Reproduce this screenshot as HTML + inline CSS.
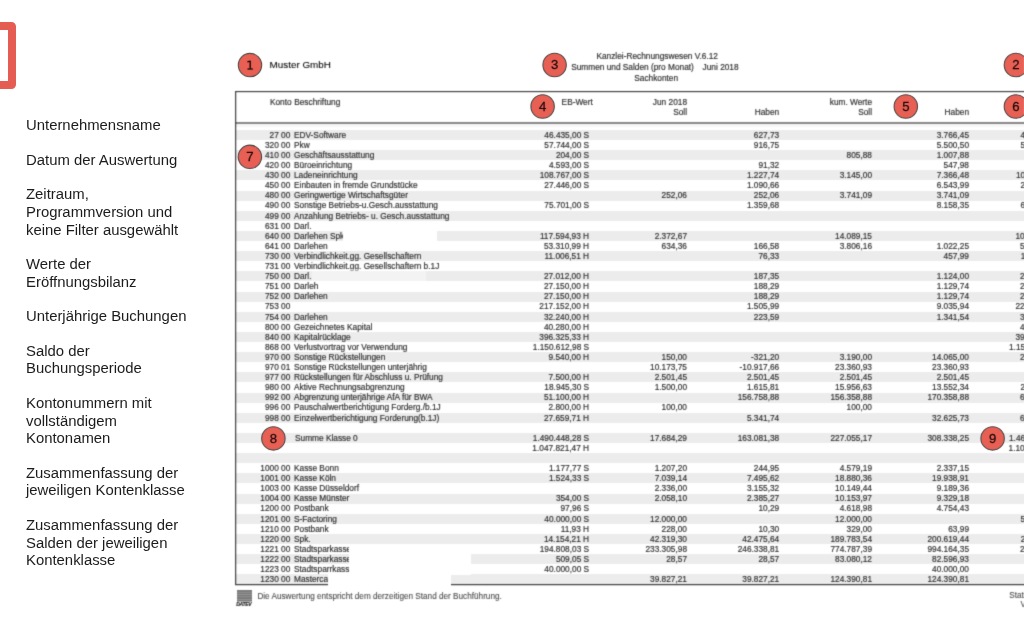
<!DOCTYPE html>
<html lang="de"><head><meta charset="utf-8"><title>Summen und Salden</title>
<style>
html,body{margin:0;padding:0;background:#fff;}
body{width:1024px;height:624px;overflow:hidden;position:relative;font-family:"Liberation Sans",sans-serif;}
#redbox{position:absolute;left:-24px;top:22.2px;width:39.9px;height:67.3px;box-sizing:border-box;border:8px solid #e55d52;border-radius:4.5px;}
#side{position:absolute;left:25.9px;top:0;width:210px;height:624px;will-change:transform;font-size:14.88px;line-height:16px;color:#1c1c1c;}
#side div{position:absolute;left:0;white-space:nowrap;}
#doc{position:absolute;left:0;top:0;width:1024px;height:624px;overflow:hidden;}
#doc .t{position:absolute;white-space:nowrap;line-height:10px;color:#2c2c2c;-webkit-text-stroke-width:0.17px;}
.stripe{position:absolute;left:236px;width:800px;height:10px;background:#ececec;}
.wh{position:absolute;background:#fff;z-index:2;}
.ln{position:absolute;background:#6e6e6e;}
#blur{position:absolute;left:0;top:0;width:1024px;height:624px;filter:url(#fb);}
</style></head><body>
<svg width="0" height="0" style="position:absolute"><defs><filter id="fb" x="0" y="0" width="100%" height="100%" color-interpolation-filters="sRGB"><feConvolveMatrix order="3" kernelMatrix="0.0243 0.1072 0.0243 0.1072 0.4741 0.1072 0.0243 0.1072 0.0243" edgeMode="none"/></filter><filter id="fc" x="0" y="0" width="100%" height="100%" color-interpolation-filters="sRGB"><feConvolveMatrix order="3" kernelMatrix="0.0052 0.0619 0.0052 0.0619 0.7314 0.0619 0.0052 0.0619 0.0052" edgeMode="none"/></filter></defs></svg>
<div id="redbox"></div>
<div id="side">
<div style="top:117px">Unternehmensname</div>
<div style="top:152px">Datum der Auswertung</div>
<div style="top:186px">Zeitraum,</div>
<div style="top:204px">Programmversion und</div>
<div style="top:222px">keine Filter ausgewählt</div>
<div style="top:256px">Werte der</div>
<div style="top:274px">Eröffnungsbilanz</div>
<div style="top:308px">Unterjährige Buchungen</div>
<div style="top:343px">Saldo der</div>
<div style="top:360px">Buchungsperiode</div>
<div style="top:395px">Kontonummern mit</div>
<div style="top:413px">vollständigem</div>
<div style="top:430px">Kontonamen</div>
<div style="top:465px">Zusammenfassung der</div>
<div style="top:482px">jeweiligen Kontenklasse</div>
<div style="top:517px">Zusammenfassung der</div>
<div style="top:535px">Salden der jeweiligen</div>
<div style="top:552px">Kontenklasse</div>
</div>
<div id="doc"><div id="blur">
<div class="stripe" style="top:129.90px"></div>
<div class="stripe" style="top:150.10px"></div>
<div class="stripe" style="top:170.30px"></div>
<div class="stripe" style="top:190.50px"></div>
<div class="stripe" style="top:210.70px"></div>
<div class="stripe" style="top:230.90px"></div>
<div class="stripe" style="top:251.10px"></div>
<div class="stripe" style="top:271.30px"></div>
<div class="stripe" style="top:291.50px"></div>
<div class="stripe" style="top:311.70px"></div>
<div class="stripe" style="top:331.90px"></div>
<div class="stripe" style="top:352.10px"></div>
<div class="stripe" style="top:372.30px"></div>
<div class="stripe" style="top:392.50px"></div>
<div class="stripe" style="top:412.70px"></div>
<div class="stripe" style="top:432.90px"></div>
<div class="stripe" style="top:453.10px"></div>
<div class="stripe" style="top:473.30px"></div>
<div class="stripe" style="top:493.50px"></div>
<div class="stripe" style="top:513.70px"></div>
<div class="stripe" style="top:533.90px"></div>
<div class="stripe" style="top:554.10px"></div>
<div class="stripe" style="top:574.30px"></div>
<div class="stripe" style="top:124.4px;height:2.2px;background:#f6f6f6"></div>
<div class="wh" style="left:343.4px;top:229.5px;width:93.6px;height:12px"></div>
<div class="wh" style="left:312px;top:269px;width:114px;height:12px;opacity:.4"></div>
<div class="wh" style="left:348.7px;top:544.6px;width:122.3px;height:30px"></div>
<div class="ln" style="left:235px;top:91px;width:800px;height:1px;background:#3c3c3c"></div>
<div class="ln" style="left:235px;top:92px;width:800px;height:1px;background:#e2e2e2"></div>
<div class="ln" style="left:235px;top:122px;width:800px;height:2px;background:#878787"></div>
<div class="ln" style="left:235px;top:584px;width:800px;height:1px;background:#404040"></div>
<div class="ln" style="left:235px;top:585px;width:800px;height:1px;background:#d4d4d4"></div>
<div class="ln" style="left:235px;top:91px;width:1px;height:494px;background:#454545"></div>
<div class="ln" style="left:236px;top:92px;width:1px;height:492px;background:#d0d0d0;mix-blend-mode:multiply"></div>
<div class="wh" style="left:328px;top:573.5px;width:122.6px;height:14px"></div>
<div class="t" style="top:59.60px;font-size:9.85px;color:#000;left:269.60px;-webkit-text-stroke-width:0.08px;">Muster GmbH</div>
<div class="t" style="top:51.10px;font-size:8.3px;left:457.20px;width:400px;text-align:center;">Kanzlei-Rechnungswesen V.6.12</div>
<div class="t" style="top:62.10px;font-size:8.3px;left:571.20px;">Summen und Salden (pro Monat)</div>
<div class="t" style="top:62.10px;font-size:8.3px;left:438.60px;width:300px;text-align:right;">Juni 2018</div>
<div class="t" style="top:73.10px;font-size:8.3px;left:456.20px;width:400px;text-align:center;">Sachkonten</div>
<div class="t" style="top:97.10px;font-size:8.3px;left:269.90px;">Konto</div>
<div class="t" style="top:97.10px;font-size:8.3px;left:294.20px;">Beschriftung</div>
<div class="t" style="top:97.10px;font-size:8.3px;left:561.60px;">EB-Wert</div>
<div class="t" style="top:97.10px;font-size:8.3px;left:387.00px;width:300px;text-align:right;">Jun 2018</div>
<div class="t" style="top:107.10px;font-size:8.3px;left:387.00px;width:300px;text-align:right;">Soll</div>
<div class="t" style="top:107.10px;font-size:8.3px;left:479.20px;width:300px;text-align:right;">Haben</div>
<div class="t" style="top:97.10px;font-size:8.3px;left:572.00px;width:300px;text-align:right;">kum. Werte</div>
<div class="t" style="top:107.10px;font-size:8.3px;left:572.00px;width:300px;text-align:right;">Soll</div>
<div class="t" style="top:107.10px;font-size:8.3px;left:669.00px;width:300px;text-align:right;">Haben</div>
<div class="t" style="top:130.10px;font-size:8.3px;left:-9.70px;width:300px;text-align:right;">27 00</div>
<div class="t" style="top:130.10px;font-size:8.3px;left:294.00px;">EDV-Software</div>
<div class="t" style="top:130.10px;font-size:8.3px;left:289.10px;width:300px;text-align:right;">46.435,00 S</div>
<div class="t" style="top:130.10px;font-size:8.3px;left:479.20px;width:300px;text-align:right;">627,73</div>
<div class="t" style="top:130.10px;font-size:8.3px;left:669.00px;width:300px;text-align:right;">3.766,45</div>
<div class="t" style="top:130.10px;font-size:8.3px;left:765.30px;width:300px;text-align:right;">42.668,55 S</div>
<div class="t" style="top:140.10px;font-size:8.3px;left:-9.70px;width:300px;text-align:right;">320 00</div>
<div class="t" style="top:140.10px;font-size:8.3px;left:294.00px;">Pkw</div>
<div class="t" style="top:140.10px;font-size:8.3px;left:289.10px;width:300px;text-align:right;">57.744,00 S</div>
<div class="t" style="top:140.10px;font-size:8.3px;left:479.20px;width:300px;text-align:right;">916,75</div>
<div class="t" style="top:140.10px;font-size:8.3px;left:669.00px;width:300px;text-align:right;">5.500,50</div>
<div class="t" style="top:140.10px;font-size:8.3px;left:765.30px;width:300px;text-align:right;">52.243,50 S</div>
<div class="t" style="top:150.10px;font-size:8.3px;left:-9.70px;width:300px;text-align:right;">410 00</div>
<div class="t" style="top:150.10px;font-size:8.3px;left:294.00px;">Geschäftsausstattung</div>
<div class="t" style="top:150.10px;font-size:8.3px;left:289.10px;width:300px;text-align:right;">204,00 S</div>
<div class="t" style="top:150.10px;font-size:8.3px;left:572.00px;width:300px;text-align:right;">805,88</div>
<div class="t" style="top:150.10px;font-size:8.3px;left:669.00px;width:300px;text-align:right;">1.007,88</div>
<div class="t" style="top:150.10px;font-size:8.3px;left:765.30px;width:300px;text-align:right;">2,00 S</div>
<div class="t" style="top:160.10px;font-size:8.3px;left:-9.70px;width:300px;text-align:right;">420 00</div>
<div class="t" style="top:160.10px;font-size:8.3px;left:294.00px;">Büroeinrichtung</div>
<div class="t" style="top:160.10px;font-size:8.3px;left:289.10px;width:300px;text-align:right;">4.593,00 S</div>
<div class="t" style="top:160.10px;font-size:8.3px;left:479.20px;width:300px;text-align:right;">91,32</div>
<div class="t" style="top:160.10px;font-size:8.3px;left:669.00px;width:300px;text-align:right;">547,98</div>
<div class="t" style="top:160.10px;font-size:8.3px;left:765.30px;width:300px;text-align:right;">4.045,02 S</div>
<div class="t" style="top:170.10px;font-size:8.3px;left:-9.70px;width:300px;text-align:right;">430 00</div>
<div class="t" style="top:170.10px;font-size:8.3px;left:294.00px;">Ladeneinrichtung</div>
<div class="t" style="top:170.10px;font-size:8.3px;left:289.10px;width:300px;text-align:right;">108.767,00 S</div>
<div class="t" style="top:170.10px;font-size:8.3px;left:479.20px;width:300px;text-align:right;">1.227,74</div>
<div class="t" style="top:170.10px;font-size:8.3px;left:572.00px;width:300px;text-align:right;">3.145,00</div>
<div class="t" style="top:170.10px;font-size:8.3px;left:669.00px;width:300px;text-align:right;">7.366,48</div>
<div class="t" style="top:170.10px;font-size:8.3px;left:765.30px;width:300px;text-align:right;">104.545,52 S</div>
<div class="t" style="top:180.10px;font-size:8.3px;left:-9.70px;width:300px;text-align:right;">450 00</div>
<div class="t" style="top:180.10px;font-size:8.3px;left:294.00px;">Einbauten in fremde Grundstücke</div>
<div class="t" style="top:180.10px;font-size:8.3px;left:289.10px;width:300px;text-align:right;">27.446,00 S</div>
<div class="t" style="top:180.10px;font-size:8.3px;left:479.20px;width:300px;text-align:right;">1.090,66</div>
<div class="t" style="top:180.10px;font-size:8.3px;left:669.00px;width:300px;text-align:right;">6.543,99</div>
<div class="t" style="top:180.10px;font-size:8.3px;left:765.30px;width:300px;text-align:right;">20.902,01 S</div>
<div class="t" style="top:190.10px;font-size:8.3px;left:-9.70px;width:300px;text-align:right;">480 00</div>
<div class="t" style="top:190.10px;font-size:8.3px;left:294.00px;">Geringwertige Wirtschaftsgüter</div>
<div class="t" style="top:190.10px;font-size:8.3px;left:387.00px;width:300px;text-align:right;">252,06</div>
<div class="t" style="top:190.10px;font-size:8.3px;left:479.20px;width:300px;text-align:right;">252,06</div>
<div class="t" style="top:190.10px;font-size:8.3px;left:572.00px;width:300px;text-align:right;">3.741,09</div>
<div class="t" style="top:190.10px;font-size:8.3px;left:669.00px;width:300px;text-align:right;">3.741,09</div>
<div class="t" style="top:200.10px;font-size:8.3px;left:-9.70px;width:300px;text-align:right;">490 00</div>
<div class="t" style="top:200.10px;font-size:8.3px;left:294.00px;">Sonstige Betriebs-u.Gesch.ausstattung</div>
<div class="t" style="top:200.10px;font-size:8.3px;left:289.10px;width:300px;text-align:right;">75.701,00 S</div>
<div class="t" style="top:200.10px;font-size:8.3px;left:479.20px;width:300px;text-align:right;">1.359,68</div>
<div class="t" style="top:200.10px;font-size:8.3px;left:669.00px;width:300px;text-align:right;">8.158,35</div>
<div class="t" style="top:200.10px;font-size:8.3px;left:765.30px;width:300px;text-align:right;">67.542,65 S</div>
<div class="t" style="top:211.10px;font-size:8.3px;left:-9.70px;width:300px;text-align:right;">499 00</div>
<div class="t" style="top:211.10px;font-size:8.3px;left:294.00px;">Anzahlung Betriebs- u. Gesch.ausstattung</div>
<div class="t" style="top:221.10px;font-size:8.3px;left:-9.70px;width:300px;text-align:right;">631 00</div>
<div class="t" style="top:221.10px;font-size:8.3px;left:294.00px;">Darl.</div>
<div class="t" style="top:231.10px;font-size:8.3px;left:-9.70px;width:300px;text-align:right;">640 00</div>
<div class="t" style="top:231.10px;font-size:8.3px;left:294.00px;">Darlehen Spk</div>
<div class="t" style="top:231.10px;font-size:8.3px;left:289.10px;width:300px;text-align:right;">117.594,93 H</div>
<div class="t" style="top:231.10px;font-size:8.3px;left:387.00px;width:300px;text-align:right;">2.372,67</div>
<div class="t" style="top:231.10px;font-size:8.3px;left:572.00px;width:300px;text-align:right;">14.089,15</div>
<div class="t" style="top:231.10px;font-size:8.3px;left:765.30px;width:300px;text-align:right;">103.505,78 H</div>
<div class="t" style="top:241.10px;font-size:8.3px;left:-9.70px;width:300px;text-align:right;">641 00</div>
<div class="t" style="top:241.10px;font-size:8.3px;left:294.00px;">Darlehen</div>
<div class="t" style="top:241.10px;font-size:8.3px;left:289.10px;width:300px;text-align:right;">53.310,99 H</div>
<div class="t" style="top:241.10px;font-size:8.3px;left:387.00px;width:300px;text-align:right;">634,36</div>
<div class="t" style="top:241.10px;font-size:8.3px;left:479.20px;width:300px;text-align:right;">166,58</div>
<div class="t" style="top:241.10px;font-size:8.3px;left:572.00px;width:300px;text-align:right;">3.806,16</div>
<div class="t" style="top:241.10px;font-size:8.3px;left:669.00px;width:300px;text-align:right;">1.022,25</div>
<div class="t" style="top:241.10px;font-size:8.3px;left:765.30px;width:300px;text-align:right;">50.527,08 H</div>
<div class="t" style="top:251.10px;font-size:8.3px;left:-9.70px;width:300px;text-align:right;">730 00</div>
<div class="t" style="top:251.10px;font-size:8.3px;left:294.00px;">Verbindlichkeit.gg. Gesellschaftern</div>
<div class="t" style="top:251.10px;font-size:8.3px;left:289.10px;width:300px;text-align:right;">11.006,51 H</div>
<div class="t" style="top:251.10px;font-size:8.3px;left:479.20px;width:300px;text-align:right;">76,33</div>
<div class="t" style="top:251.10px;font-size:8.3px;left:669.00px;width:300px;text-align:right;">457,99</div>
<div class="t" style="top:251.10px;font-size:8.3px;left:765.30px;width:300px;text-align:right;">11.464,50 H</div>
<div class="t" style="top:261.10px;font-size:8.3px;left:-9.70px;width:300px;text-align:right;">731 00</div>
<div class="t" style="top:261.10px;font-size:8.3px;left:294.00px;">Verbindlichkeit.gg. Gesellschaftern b.1J</div>
<div class="t" style="top:271.10px;font-size:8.3px;left:-9.70px;width:300px;text-align:right;">750 00</div>
<div class="t" style="top:271.10px;font-size:8.3px;left:294.00px;">Darl.</div>
<div class="t" style="top:271.10px;font-size:8.3px;left:289.10px;width:300px;text-align:right;">27.012,00 H</div>
<div class="t" style="top:271.10px;font-size:8.3px;left:479.20px;width:300px;text-align:right;">187,35</div>
<div class="t" style="top:271.10px;font-size:8.3px;left:669.00px;width:300px;text-align:right;">1.124,00</div>
<div class="t" style="top:271.10px;font-size:8.3px;left:765.30px;width:300px;text-align:right;">28.136,00 H</div>
<div class="t" style="top:281.10px;font-size:8.3px;left:-9.70px;width:300px;text-align:right;">751 00</div>
<div class="t" style="top:281.10px;font-size:8.3px;left:294.00px;">Darleh</div>
<div class="t" style="top:281.10px;font-size:8.3px;left:289.10px;width:300px;text-align:right;">27.150,00 H</div>
<div class="t" style="top:281.10px;font-size:8.3px;left:479.20px;width:300px;text-align:right;">188,29</div>
<div class="t" style="top:281.10px;font-size:8.3px;left:669.00px;width:300px;text-align:right;">1.129,74</div>
<div class="t" style="top:281.10px;font-size:8.3px;left:765.30px;width:300px;text-align:right;">28.279,74 H</div>
<div class="t" style="top:291.10px;font-size:8.3px;left:-9.70px;width:300px;text-align:right;">752 00</div>
<div class="t" style="top:291.10px;font-size:8.3px;left:294.00px;">Darlehen</div>
<div class="t" style="top:291.10px;font-size:8.3px;left:289.10px;width:300px;text-align:right;">27.150,00 H</div>
<div class="t" style="top:291.10px;font-size:8.3px;left:479.20px;width:300px;text-align:right;">188,29</div>
<div class="t" style="top:291.10px;font-size:8.3px;left:669.00px;width:300px;text-align:right;">1.129,74</div>
<div class="t" style="top:291.10px;font-size:8.3px;left:765.30px;width:300px;text-align:right;">28.279,74 H</div>
<div class="t" style="top:301.10px;font-size:8.3px;left:-9.70px;width:300px;text-align:right;">753 00</div>
<div class="t" style="top:301.10px;font-size:8.3px;left:289.10px;width:300px;text-align:right;">217.152,00 H</div>
<div class="t" style="top:301.10px;font-size:8.3px;left:479.20px;width:300px;text-align:right;">1.505,99</div>
<div class="t" style="top:301.10px;font-size:8.3px;left:669.00px;width:300px;text-align:right;">9.035,94</div>
<div class="t" style="top:301.10px;font-size:8.3px;left:765.30px;width:300px;text-align:right;">226.187,94 H</div>
<div class="t" style="top:312.10px;font-size:8.3px;left:-9.70px;width:300px;text-align:right;">754 00</div>
<div class="t" style="top:312.10px;font-size:8.3px;left:294.00px;">Darlehen</div>
<div class="t" style="top:312.10px;font-size:8.3px;left:289.10px;width:300px;text-align:right;">32.240,00 H</div>
<div class="t" style="top:312.10px;font-size:8.3px;left:479.20px;width:300px;text-align:right;">223,59</div>
<div class="t" style="top:312.10px;font-size:8.3px;left:669.00px;width:300px;text-align:right;">1.341,54</div>
<div class="t" style="top:312.10px;font-size:8.3px;left:765.30px;width:300px;text-align:right;">33.581,54 H</div>
<div class="t" style="top:322.10px;font-size:8.3px;left:-9.70px;width:300px;text-align:right;">800 00</div>
<div class="t" style="top:322.10px;font-size:8.3px;left:294.00px;">Gezeichnetes Kapital</div>
<div class="t" style="top:322.10px;font-size:8.3px;left:289.10px;width:300px;text-align:right;">40.280,00 H</div>
<div class="t" style="top:322.10px;font-size:8.3px;left:765.30px;width:300px;text-align:right;">40.280,00 H</div>
<div class="t" style="top:332.10px;font-size:8.3px;left:-9.70px;width:300px;text-align:right;">840 00</div>
<div class="t" style="top:332.10px;font-size:8.3px;left:294.00px;">Kapitalrücklage</div>
<div class="t" style="top:332.10px;font-size:8.3px;left:289.10px;width:300px;text-align:right;">396.325,33 H</div>
<div class="t" style="top:332.10px;font-size:8.3px;left:765.30px;width:300px;text-align:right;">396.325,33 H</div>
<div class="t" style="top:342.10px;font-size:8.3px;left:-9.70px;width:300px;text-align:right;">868 00</div>
<div class="t" style="top:342.10px;font-size:8.3px;left:294.00px;">Verlustvortrag vor Verwendung</div>
<div class="t" style="top:342.10px;font-size:8.3px;left:289.10px;width:300px;text-align:right;">1.150.612,98 S</div>
<div class="t" style="top:342.10px;font-size:8.3px;left:765.30px;width:300px;text-align:right;">1.150.612,98 S</div>
<div class="t" style="top:352.10px;font-size:8.3px;left:-9.70px;width:300px;text-align:right;">970 00</div>
<div class="t" style="top:352.10px;font-size:8.3px;left:294.00px;">Sonstige Rückstellungen</div>
<div class="t" style="top:352.10px;font-size:8.3px;left:289.10px;width:300px;text-align:right;">9.540,00 H</div>
<div class="t" style="top:352.10px;font-size:8.3px;left:387.00px;width:300px;text-align:right;">150,00</div>
<div class="t" style="top:352.10px;font-size:8.3px;left:479.20px;width:300px;text-align:right;">-321,20</div>
<div class="t" style="top:352.10px;font-size:8.3px;left:572.00px;width:300px;text-align:right;">3.190,00</div>
<div class="t" style="top:352.10px;font-size:8.3px;left:669.00px;width:300px;text-align:right;">14.065,00</div>
<div class="t" style="top:352.10px;font-size:8.3px;left:765.30px;width:300px;text-align:right;">20.415,00 H</div>
<div class="t" style="top:362.10px;font-size:8.3px;left:-9.70px;width:300px;text-align:right;">970 01</div>
<div class="t" style="top:362.10px;font-size:8.3px;left:294.00px;">Sonstige Rückstellungen unterjährig</div>
<div class="t" style="top:362.10px;font-size:8.3px;left:387.00px;width:300px;text-align:right;">10.173,75</div>
<div class="t" style="top:362.10px;font-size:8.3px;left:479.20px;width:300px;text-align:right;">-10.917,66</div>
<div class="t" style="top:362.10px;font-size:8.3px;left:572.00px;width:300px;text-align:right;">23.360,93</div>
<div class="t" style="top:362.10px;font-size:8.3px;left:669.00px;width:300px;text-align:right;">23.360,93</div>
<div class="t" style="top:372.10px;font-size:8.3px;left:-9.70px;width:300px;text-align:right;">977 00</div>
<div class="t" style="top:372.10px;font-size:8.3px;left:294.00px;">Rückstellungen für Abschluss u. Prüfung</div>
<div class="t" style="top:372.10px;font-size:8.3px;left:289.10px;width:300px;text-align:right;">7.500,00 H</div>
<div class="t" style="top:372.10px;font-size:8.3px;left:387.00px;width:300px;text-align:right;">2.501,45</div>
<div class="t" style="top:372.10px;font-size:8.3px;left:479.20px;width:300px;text-align:right;">2.501,45</div>
<div class="t" style="top:372.10px;font-size:8.3px;left:572.00px;width:300px;text-align:right;">2.501,45</div>
<div class="t" style="top:372.10px;font-size:8.3px;left:669.00px;width:300px;text-align:right;">2.501,45</div>
<div class="t" style="top:372.10px;font-size:8.3px;left:765.30px;width:300px;text-align:right;">7.500,00 H</div>
<div class="t" style="top:382.10px;font-size:8.3px;left:-9.70px;width:300px;text-align:right;">980 00</div>
<div class="t" style="top:382.10px;font-size:8.3px;left:294.00px;">Aktive Rechnungsabgrenzung</div>
<div class="t" style="top:382.10px;font-size:8.3px;left:289.10px;width:300px;text-align:right;">18.945,30 S</div>
<div class="t" style="top:382.10px;font-size:8.3px;left:387.00px;width:300px;text-align:right;">1.500,00</div>
<div class="t" style="top:382.10px;font-size:8.3px;left:479.20px;width:300px;text-align:right;">1.615,81</div>
<div class="t" style="top:382.10px;font-size:8.3px;left:572.00px;width:300px;text-align:right;">15.956,63</div>
<div class="t" style="top:382.10px;font-size:8.3px;left:669.00px;width:300px;text-align:right;">13.552,34</div>
<div class="t" style="top:382.10px;font-size:8.3px;left:765.30px;width:300px;text-align:right;">21.349,59 S</div>
<div class="t" style="top:392.10px;font-size:8.3px;left:-9.70px;width:300px;text-align:right;">992 00</div>
<div class="t" style="top:392.10px;font-size:8.3px;left:294.00px;">Abgrenzung unterjährige AfA für BWA</div>
<div class="t" style="top:392.10px;font-size:8.3px;left:289.10px;width:300px;text-align:right;">51.100,00 H</div>
<div class="t" style="top:392.10px;font-size:8.3px;left:479.20px;width:300px;text-align:right;">156.758,88</div>
<div class="t" style="top:392.10px;font-size:8.3px;left:572.00px;width:300px;text-align:right;">156.358,88</div>
<div class="t" style="top:392.10px;font-size:8.3px;left:669.00px;width:300px;text-align:right;">170.358,88</div>
<div class="t" style="top:392.10px;font-size:8.3px;left:765.30px;width:300px;text-align:right;">65.100,00 H</div>
<div class="t" style="top:402.10px;font-size:8.3px;left:-9.70px;width:300px;text-align:right;">996 00</div>
<div class="t" style="top:402.10px;font-size:8.3px;left:294.00px;">Pauschalwertberichtigung Forderg./b.1J</div>
<div class="t" style="top:402.10px;font-size:8.3px;left:289.10px;width:300px;text-align:right;">2.800,00 H</div>
<div class="t" style="top:402.10px;font-size:8.3px;left:387.00px;width:300px;text-align:right;">100,00</div>
<div class="t" style="top:402.10px;font-size:8.3px;left:572.00px;width:300px;text-align:right;">100,00</div>
<div class="t" style="top:402.10px;font-size:8.3px;left:765.30px;width:300px;text-align:right;">2.700,00 H</div>
<div class="t" style="top:413.10px;font-size:8.3px;left:-9.70px;width:300px;text-align:right;">998 00</div>
<div class="t" style="top:413.10px;font-size:8.3px;left:294.00px;">Einzelwertberichtigung Forderung(b.1J)</div>
<div class="t" style="top:413.10px;font-size:8.3px;left:289.10px;width:300px;text-align:right;">27.659,71 H</div>
<div class="t" style="top:413.10px;font-size:8.3px;left:479.20px;width:300px;text-align:right;">5.341,74</div>
<div class="t" style="top:413.10px;font-size:8.3px;left:669.00px;width:300px;text-align:right;">32.625,73</div>
<div class="t" style="top:413.10px;font-size:8.3px;left:765.30px;width:300px;text-align:right;">60.285,44 H</div>
<div class="t" style="top:433.10px;font-size:8.3px;left:295.00px;">Summe Klasse 0</div>
<div class="t" style="top:433.10px;font-size:8.3px;left:289.10px;width:300px;text-align:right;">1.490.448,28 S</div>
<div class="t" style="top:433.10px;font-size:8.3px;left:387.00px;width:300px;text-align:right;">17.684,29</div>
<div class="t" style="top:433.10px;font-size:8.3px;left:479.20px;width:300px;text-align:right;">163.081,38</div>
<div class="t" style="top:433.10px;font-size:8.3px;left:572.00px;width:300px;text-align:right;">227.055,17</div>
<div class="t" style="top:433.10px;font-size:8.3px;left:669.00px;width:300px;text-align:right;">308.338,25</div>
<div class="t" style="top:433.10px;font-size:8.3px;left:765.30px;width:300px;text-align:right;">1.461.234,56 S</div>
<div class="t" style="top:443.10px;font-size:8.3px;left:289.10px;width:300px;text-align:right;">1.047.821,47 H</div>
<div class="t" style="top:443.10px;font-size:8.3px;left:765.30px;width:300px;text-align:right;">1.101.234,56 H</div>
<div class="t" style="top:463.10px;font-size:8.3px;left:-9.70px;width:300px;text-align:right;">1000 00</div>
<div class="t" style="top:463.10px;font-size:8.3px;left:294.00px;">Kasse Bonn</div>
<div class="t" style="top:463.10px;font-size:8.3px;left:289.10px;width:300px;text-align:right;">1.177,77 S</div>
<div class="t" style="top:463.10px;font-size:8.3px;left:387.00px;width:300px;text-align:right;">1.207,20</div>
<div class="t" style="top:463.10px;font-size:8.3px;left:479.20px;width:300px;text-align:right;">244,95</div>
<div class="t" style="top:463.10px;font-size:8.3px;left:572.00px;width:300px;text-align:right;">4.579,19</div>
<div class="t" style="top:463.10px;font-size:8.3px;left:669.00px;width:300px;text-align:right;">2.337,15</div>
<div class="t" style="top:463.10px;font-size:8.3px;left:765.30px;width:300px;text-align:right;">3.419,81 S</div>
<div class="t" style="top:473.10px;font-size:8.3px;left:-9.70px;width:300px;text-align:right;">1001 00</div>
<div class="t" style="top:473.10px;font-size:8.3px;left:294.00px;">Kasse Köln</div>
<div class="t" style="top:473.10px;font-size:8.3px;left:289.10px;width:300px;text-align:right;">1.524,33 S</div>
<div class="t" style="top:473.10px;font-size:8.3px;left:387.00px;width:300px;text-align:right;">7.039,14</div>
<div class="t" style="top:473.10px;font-size:8.3px;left:479.20px;width:300px;text-align:right;">7.495,62</div>
<div class="t" style="top:473.10px;font-size:8.3px;left:572.00px;width:300px;text-align:right;">18.880,36</div>
<div class="t" style="top:473.10px;font-size:8.3px;left:669.00px;width:300px;text-align:right;">19.938,91</div>
<div class="t" style="top:473.10px;font-size:8.3px;left:765.30px;width:300px;text-align:right;">465,78 S</div>
<div class="t" style="top:483.10px;font-size:8.3px;left:-9.70px;width:300px;text-align:right;">1003 00</div>
<div class="t" style="top:483.10px;font-size:8.3px;left:294.00px;">Kasse Düsseldorf</div>
<div class="t" style="top:483.10px;font-size:8.3px;left:387.00px;width:300px;text-align:right;">2.336,00</div>
<div class="t" style="top:483.10px;font-size:8.3px;left:479.20px;width:300px;text-align:right;">3.155,32</div>
<div class="t" style="top:483.10px;font-size:8.3px;left:572.00px;width:300px;text-align:right;">10.149,44</div>
<div class="t" style="top:483.10px;font-size:8.3px;left:669.00px;width:300px;text-align:right;">9.189,36</div>
<div class="t" style="top:483.10px;font-size:8.3px;left:765.30px;width:300px;text-align:right;">960,08 S</div>
<div class="t" style="top:493.10px;font-size:8.3px;left:-9.70px;width:300px;text-align:right;">1004 00</div>
<div class="t" style="top:493.10px;font-size:8.3px;left:294.00px;">Kasse Münster</div>
<div class="t" style="top:493.10px;font-size:8.3px;left:289.10px;width:300px;text-align:right;">354,00 S</div>
<div class="t" style="top:493.10px;font-size:8.3px;left:387.00px;width:300px;text-align:right;">2.058,10</div>
<div class="t" style="top:493.10px;font-size:8.3px;left:479.20px;width:300px;text-align:right;">2.385,27</div>
<div class="t" style="top:493.10px;font-size:8.3px;left:572.00px;width:300px;text-align:right;">10.153,97</div>
<div class="t" style="top:493.10px;font-size:8.3px;left:669.00px;width:300px;text-align:right;">9.329,18</div>
<div class="t" style="top:493.10px;font-size:8.3px;left:765.30px;width:300px;text-align:right;">1.178,79 S</div>
<div class="t" style="top:503.10px;font-size:8.3px;left:-9.70px;width:300px;text-align:right;">1200 00</div>
<div class="t" style="top:503.10px;font-size:8.3px;left:294.00px;">Postbank</div>
<div class="t" style="top:503.10px;font-size:8.3px;left:289.10px;width:300px;text-align:right;">97,96 S</div>
<div class="t" style="top:503.10px;font-size:8.3px;left:479.20px;width:300px;text-align:right;">10,29</div>
<div class="t" style="top:503.10px;font-size:8.3px;left:572.00px;width:300px;text-align:right;">4.618,98</div>
<div class="t" style="top:503.10px;font-size:8.3px;left:669.00px;width:300px;text-align:right;">4.754,43</div>
<div class="t" style="top:503.10px;font-size:8.3px;left:765.30px;width:300px;text-align:right;">37,49 H</div>
<div class="t" style="top:514.10px;font-size:8.3px;left:-9.70px;width:300px;text-align:right;">1201 00</div>
<div class="t" style="top:514.10px;font-size:8.3px;left:294.00px;">S-Factoring</div>
<div class="t" style="top:514.10px;font-size:8.3px;left:289.10px;width:300px;text-align:right;">40.000,00 S</div>
<div class="t" style="top:514.10px;font-size:8.3px;left:387.00px;width:300px;text-align:right;">12.000,00</div>
<div class="t" style="top:514.10px;font-size:8.3px;left:572.00px;width:300px;text-align:right;">12.000,00</div>
<div class="t" style="top:514.10px;font-size:8.3px;left:765.30px;width:300px;text-align:right;">52.000,00 S</div>
<div class="t" style="top:524.10px;font-size:8.3px;left:-9.70px;width:300px;text-align:right;">1210 00</div>
<div class="t" style="top:524.10px;font-size:8.3px;left:294.00px;">Postbank</div>
<div class="t" style="top:524.10px;font-size:8.3px;left:289.10px;width:300px;text-align:right;">11,93 H</div>
<div class="t" style="top:524.10px;font-size:8.3px;left:387.00px;width:300px;text-align:right;">228,00</div>
<div class="t" style="top:524.10px;font-size:8.3px;left:479.20px;width:300px;text-align:right;">10,30</div>
<div class="t" style="top:524.10px;font-size:8.3px;left:572.00px;width:300px;text-align:right;">329,00</div>
<div class="t" style="top:524.10px;font-size:8.3px;left:669.00px;width:300px;text-align:right;">63,99</div>
<div class="t" style="top:524.10px;font-size:8.3px;left:765.30px;width:300px;text-align:right;">253,08 S</div>
<div class="t" style="top:534.10px;font-size:8.3px;left:-9.70px;width:300px;text-align:right;">1220 00</div>
<div class="t" style="top:534.10px;font-size:8.3px;left:294.00px;">Spk.</div>
<div class="t" style="top:534.10px;font-size:8.3px;left:289.10px;width:300px;text-align:right;">14.154,21 H</div>
<div class="t" style="top:534.10px;font-size:8.3px;left:387.00px;width:300px;text-align:right;">42.319,30</div>
<div class="t" style="top:534.10px;font-size:8.3px;left:479.20px;width:300px;text-align:right;">42.475,64</div>
<div class="t" style="top:534.10px;font-size:8.3px;left:572.00px;width:300px;text-align:right;">189.783,54</div>
<div class="t" style="top:534.10px;font-size:8.3px;left:669.00px;width:300px;text-align:right;">200.619,44</div>
<div class="t" style="top:534.10px;font-size:8.3px;left:765.30px;width:300px;text-align:right;">24.990,11 H</div>
<div class="t" style="top:544.10px;font-size:8.3px;left:-9.70px;width:300px;text-align:right;">1221 00</div>
<div class="t" style="top:544.10px;font-size:8.3px;left:294.00px;">Stadtsparkasse</div>
<div class="t" style="top:544.10px;font-size:8.3px;left:289.10px;width:300px;text-align:right;">194.808,03 S</div>
<div class="t" style="top:544.10px;font-size:8.3px;left:387.00px;width:300px;text-align:right;">233.305,98</div>
<div class="t" style="top:544.10px;font-size:8.3px;left:479.20px;width:300px;text-align:right;">246.338,81</div>
<div class="t" style="top:544.10px;font-size:8.3px;left:572.00px;width:300px;text-align:right;">774.787,39</div>
<div class="t" style="top:544.10px;font-size:8.3px;left:669.00px;width:300px;text-align:right;">994.164,35</div>
<div class="t" style="top:544.10px;font-size:8.3px;left:765.30px;width:300px;text-align:right;">24.568,93 H</div>
<div class="t" style="top:554.10px;font-size:8.3px;left:-9.70px;width:300px;text-align:right;">1222 00</div>
<div class="t" style="top:554.10px;font-size:8.3px;left:294.00px;">Stadtsparkasse</div>
<div class="t" style="top:554.10px;font-size:8.3px;left:289.10px;width:300px;text-align:right;">509,05 S</div>
<div class="t" style="top:554.10px;font-size:8.3px;left:387.00px;width:300px;text-align:right;">28,57</div>
<div class="t" style="top:554.10px;font-size:8.3px;left:479.20px;width:300px;text-align:right;">28,57</div>
<div class="t" style="top:554.10px;font-size:8.3px;left:572.00px;width:300px;text-align:right;">83.080,12</div>
<div class="t" style="top:554.10px;font-size:8.3px;left:669.00px;width:300px;text-align:right;">82.596,93</div>
<div class="t" style="top:554.10px;font-size:8.3px;left:765.30px;width:300px;text-align:right;">992,24 S</div>
<div class="t" style="top:564.10px;font-size:8.3px;left:-9.70px;width:300px;text-align:right;">1223 00</div>
<div class="t" style="top:564.10px;font-size:8.3px;left:294.00px;">Stadtsparrkass</div>
<div class="t" style="top:564.10px;font-size:8.3px;left:289.10px;width:300px;text-align:right;">40.000,00 S</div>
<div class="t" style="top:564.10px;font-size:8.3px;left:669.00px;width:300px;text-align:right;">40.000,00</div>
<div class="t" style="top:574.10px;font-size:8.3px;left:-9.70px;width:300px;text-align:right;">1230 00</div>
<div class="t" style="top:574.10px;font-size:8.3px;left:294.00px;">Masterca</div>
<div class="t" style="top:574.10px;font-size:8.3px;left:387.00px;width:300px;text-align:right;">39.827,21</div>
<div class="t" style="top:574.10px;font-size:8.3px;left:479.20px;width:300px;text-align:right;">39.827,21</div>
<div class="t" style="top:574.10px;font-size:8.3px;left:572.00px;width:300px;text-align:right;">124.390,81</div>
<div class="t" style="top:574.10px;font-size:8.3px;left:669.00px;width:300px;text-align:right;">124.390,81</div>
<div class="t" style="top:591.60px;font-size:8.2px;color:#4a4a4a;left:257.40px;-webkit-text-stroke-width:0.1px;">Die Auswertung entspricht dem derzeitigen Stand der Buchführung.</div>
<div class="t" style="top:590.60px;font-size:8.2px;color:#4a4a4a;left:1009.30px;-webkit-text-stroke-width:0.1px;">Status: endgültig</div>
<div class="t" style="top:599.60px;font-size:8.2px;color:#4a4a4a;left:1020.60px;-webkit-text-stroke-width:0.1px;">Version 1</div>
<svg style="position:absolute;left:236.8px;top:590.1px" width="15" height="11.5" viewBox="0 0 15 11.5"><rect width="15" height="11.5" fill="#b4b4b4"/><rect x="0" y="0.00" width="15" height="1.85" fill="#777"/><rect x="0" y="2.38" width="15" height="1.85" fill="#777"/><rect x="0" y="4.76" width="15" height="1.85" fill="#777"/><rect x="0" y="7.14" width="15" height="1.85" fill="#777"/><rect x="0" y="9.52" width="15" height="1.85" fill="#777"/></svg>
<div class="t" style="left:236.2px;top:599.4px;font-size:5px;font-weight:bold;font-style:italic;letter-spacing:-0.3px;color:#222;-webkit-text-stroke-width:0.15px">DATEV</div>
</div>
<svg id="circ" width="1024" height="624" viewBox="0 0 1024 624" style="position:absolute;left:0;top:0;filter:url(#fc)" font-family="Liberation Sans, sans-serif" font-size="12.3" fill="#1a0b0a" stroke="#1a0b0a" stroke-width="0.25">
<circle cx="250.0" cy="65.1" r="11.7" fill="#e85f54" stroke="#4f4a49" stroke-width="1.1"/>
<path d="M247.67 68.55 L249.60 68.55 L249.60 61.88 L247.50 62.30 L247.50 61.22 L249.59 60.80 L250.78 60.80 L250.78 68.55 L252.71 68.55 L252.71 69.55 L247.67 69.55Z" fill="#1a0b0a"/>
<circle cx="1015.9" cy="65.0" r="11.7" fill="#e85f54" stroke="#4f4a49" stroke-width="1.1"/>
<text x="1015.9" y="69.45" text-anchor="middle" transform="translate(1015.9 0) scale(1.07 1) translate(-1015.9 0)">2</text>
<circle cx="554.6" cy="65.0" r="11.7" fill="#e85f54" stroke="#4f4a49" stroke-width="1.1"/>
<text x="554.6" y="69.45" text-anchor="middle" transform="translate(554.6 0) scale(1.07 1) translate(-554.6 0)">3</text>
<circle cx="542.6" cy="106.5" r="11.7" fill="#e85f54" stroke="#4f4a49" stroke-width="1.1"/>
<text x="542.6" y="110.95" text-anchor="middle" transform="translate(542.6 0) scale(1.07 1) translate(-542.6 0)">4</text>
<circle cx="905.8" cy="106.5" r="11.7" fill="#e85f54" stroke="#4f4a49" stroke-width="1.1"/>
<text x="905.8" y="110.95" text-anchor="middle" transform="translate(905.8 0) scale(1.07 1) translate(-905.8 0)">5</text>
<circle cx="1015.9" cy="106.5" r="11.7" fill="#e85f54" stroke="#4f4a49" stroke-width="1.1"/>
<text x="1015.9" y="110.95" text-anchor="middle" transform="translate(1015.9 0) scale(1.07 1) translate(-1015.9 0)">6</text>
<circle cx="249.9" cy="156.8" r="11.7" fill="#e85f54" stroke="#4f4a49" stroke-width="1.1"/>
<text x="249.9" y="161.25" text-anchor="middle" transform="translate(249.9 0) scale(1.07 1) translate(-249.9 0)">7</text>
<circle cx="273.4" cy="438.4" r="11.7" fill="#e85f54" stroke="#4f4a49" stroke-width="1.1"/>
<text x="273.4" y="442.85" text-anchor="middle" transform="translate(273.4 0) scale(1.07 1) translate(-273.4 0)">8</text>
<circle cx="992.6" cy="438.4" r="11.7" fill="#e85f54" stroke="#4f4a49" stroke-width="1.1"/>
<text x="992.6" y="442.85" text-anchor="middle" transform="translate(992.6 0) scale(1.07 1) translate(-992.6 0)">9</text>
</svg>
</div></body></html>
